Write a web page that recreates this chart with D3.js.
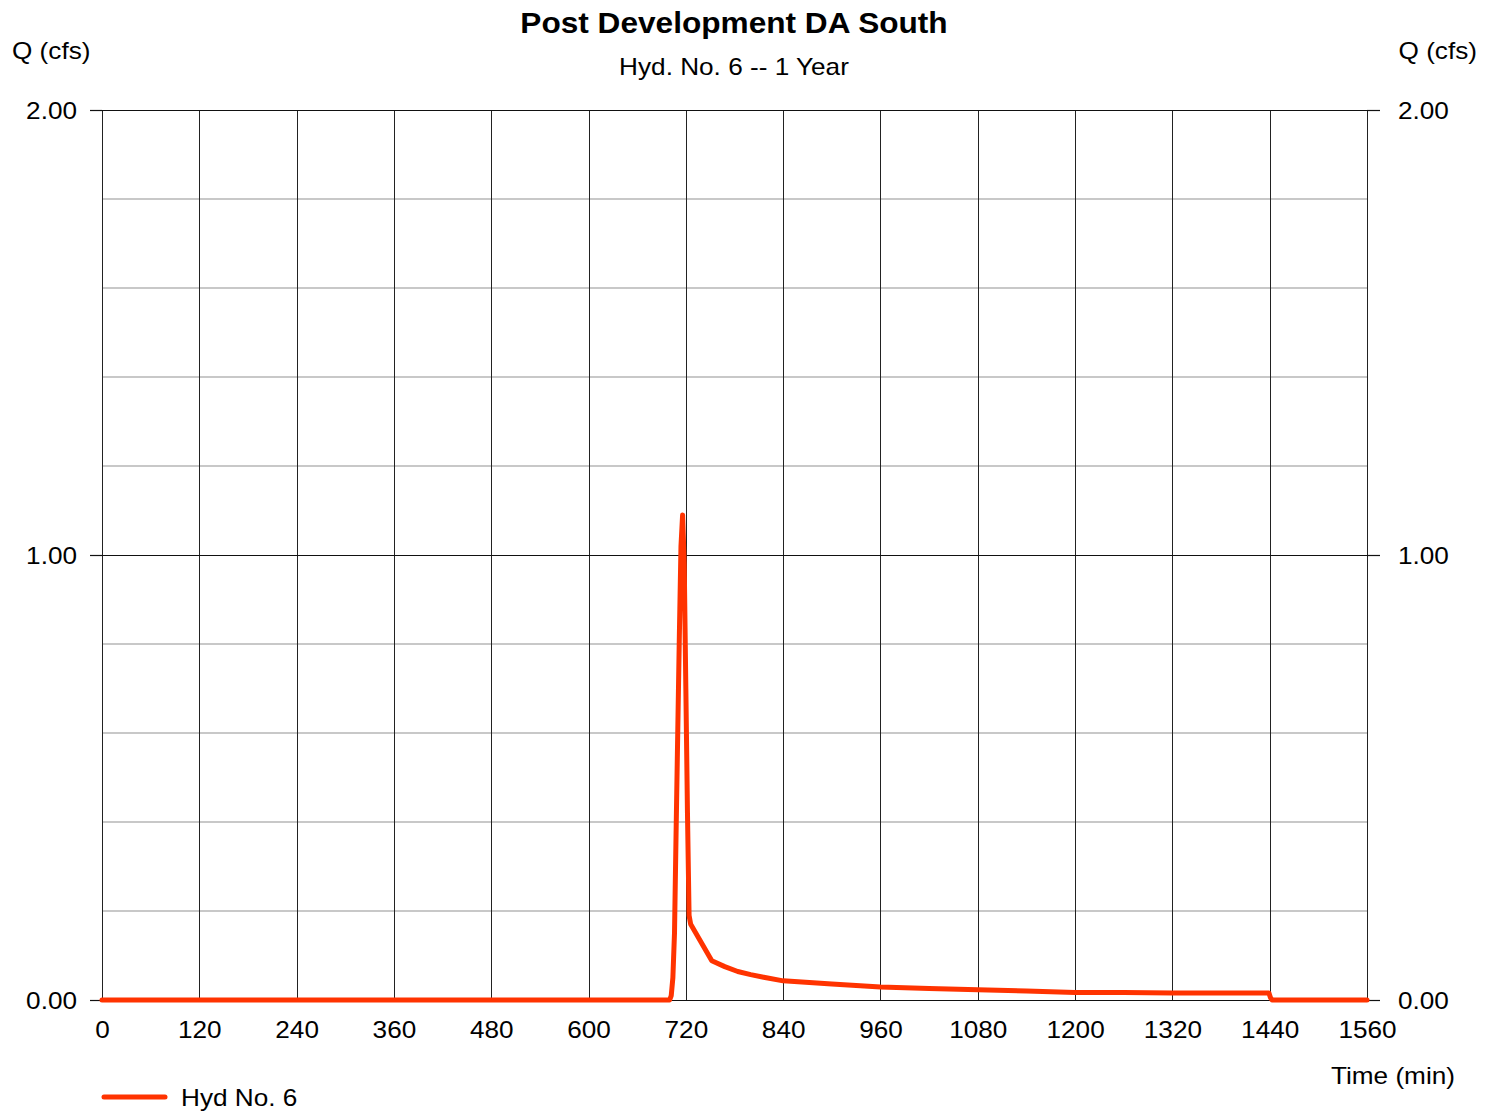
<!DOCTYPE html>
<html>
<head>
<meta charset="utf-8">
<script src="https://cdn.jsdelivr.net/npm/d3@7"></script>
<style>
  html, body { margin: 0; padding: 0; background: #fff; }
  svg { display: block; font-family: "Liberation Sans", Arial, sans-serif; }
</style>
</head>
<body>
<svg id="chart" width="1496" height="1112"></svg>
<script>
// ---- data ----
const titleText = "Post Development DA South";
const subtitleText = "Hyd. No. 6 -- 1 Year";
const yLabelText = "Q (cfs)";
const xLabelText = "Time (min)";
const seriesName = "Hyd No. 6";
const xTicks = [0, 120, 240, 360, 480, 600, 720, 840, 960, 1080, 1200, 1320, 1440, 1560];
const yMajorTicks = [0, 1, 2];
const yMinorTicks = [0.2, 0.4, 0.6, 0.8, 1.2, 1.4, 1.6, 1.8];
const timeMin = [0, 700, 702, 704, 706, 708, 710, 712, 714, 716, 718, 720, 722, 724, 726, 752, 768, 784, 800, 816, 840, 900, 960, 1020, 1080, 1140, 1200, 1260, 1320, 1380, 1439, 1441, 1443, 1560];
const flowCfs = [0, 0, 0.01, 0.05, 0.15, 0.38, 0.60, 0.82, 1.02, 1.09, 0.98, 0.70, 0.42, 0.19, 0.17, 0.088, 0.075, 0.064, 0.057, 0.051, 0.043, 0.036, 0.029, 0.026, 0.023, 0.020, 0.017, 0.017, 0.016, 0.016, 0.016, 0.005, 0, 0];

// ---- layout ----
const svg = d3.select("#chart");
const L = 102, R = 1367, T = 110, B = 1000;
const x = d3.scaleLinear().domain([0, 1560]).range([L, R]);
const y = d3.scaleLinear().domain([0, 2]).range([B, T]);
const lineColor = "#ff3300";

// minor gridlines
svg.append("g").selectAll("line").data(yMinorTicks).join("line")
  .attr("x1", L).attr("x2", R)
  .attr("y1", d => y(d)).attr("y2", d => y(d))
  .attr("stroke", "#c8c8c8").attr("stroke-width", 2);

// vertical gridlines
svg.append("g").selectAll("line").data(xTicks).join("line")
  .attr("x1", d => Math.round(x(d)) + 0.5).attr("x2", d => Math.round(x(d)) + 0.5)
  .attr("y1", T).attr("y2", B)
  .attr("stroke", "#222").attr("stroke-width", 1);

// major horizontal lines
svg.append("g").selectAll("line").data(yMajorTicks).join("line")
  .attr("x1", L).attr("x2", R)
  .attr("y1", d => Math.round(y(d)) + 0.5).attr("y2", d => Math.round(y(d)) + 0.5)
  .attr("stroke", "#111").attr("stroke-width", 1.2);

// left axis
const yAxisL = svg.append("g").attr("transform", `translate(${L},0)`)
  .call(d3.axisLeft(y).tickValues(yMajorTicks).tickSize(12).tickPadding(13).tickFormat(d3.format(".2f")));
// right axis
const yAxisR = svg.append("g").attr("transform", `translate(${R},0)`)
  .call(d3.axisRight(y).tickValues(yMajorTicks).tickSize(13).tickPadding(18).tickFormat(d3.format(".2f")));
// bottom axis
const xAxis = svg.append("g").attr("transform", `translate(0,${B})`)
  .call(d3.axisBottom(x).tickValues(xTicks).tickSize(0).tickPadding(21).tickFormat(d3.format("d")));

[yAxisL, yAxisR, xAxis].forEach(g => {
  g.select(".domain").remove();
  g.selectAll(".tick line").attr("stroke", "#111").attr("stroke-width", 1.2);
  g.selectAll("text").attr("font-size", 24).attr("fill", "#000")
    .attr("font-family", "Liberation Sans, Arial, sans-serif");
});
yAxisL.selectAll("text").attr("dy", "0.36em");
yAxisR.selectAll("text").attr("dy", "0.36em");

// series line
const data = timeMin.map((t, i) => ({ t, q: flowCfs[i] }));
svg.append("path").datum(data)
  .attr("fill", "none").attr("stroke", lineColor).attr("stroke-width", 5)
  .attr("stroke-linejoin", "round").attr("stroke-linecap", "round")
  .attr("d", d3.line().x(d => x(d.t)).y(d => y(d.q)));

// titles
svg.append("text").attr("class", "stretch").attr("x", 734).attr("y", 33)
  .attr("text-anchor", "middle").attr("font-size", 29).attr("font-weight", "bold").text(titleText);
svg.append("text").attr("class", "stretch").attr("x", 734).attr("y", 75)
  .attr("text-anchor", "middle").attr("font-size", 24).text(subtitleText);
svg.append("text").attr("class", "stretch").attr("x", 12).attr("y", 59)
  .attr("font-size", 24).text(yLabelText);
svg.append("text").attr("class", "stretch").attr("x", 1477).attr("y", 59)
  .attr("text-anchor", "end").attr("font-size", 24).text(yLabelText);
svg.append("text").attr("class", "stretch").attr("x", 1455).attr("y", 1084)
  .attr("text-anchor", "end").attr("font-size", 24).text(xLabelText);

// legend
svg.append("line").attr("x1", 104).attr("x2", 165).attr("y1", 1097).attr("y2", 1097)
  .attr("stroke", lineColor).attr("stroke-width", 5).attr("stroke-linecap", "round");
svg.append("text").attr("class", "stretch").attr("x", 181).attr("y", 1106)
  .attr("font-size", 24).text(seriesName);

// horizontal stretch of all text to match the reference's wide glyphs
svg.selectAll("text").each(function () {
  const w = this.getComputedTextLength();
  d3.select(this).attr("textLength", w * 1.09).attr("lengthAdjust", "spacingAndGlyphs");
});
</script>
</body>
</html>
